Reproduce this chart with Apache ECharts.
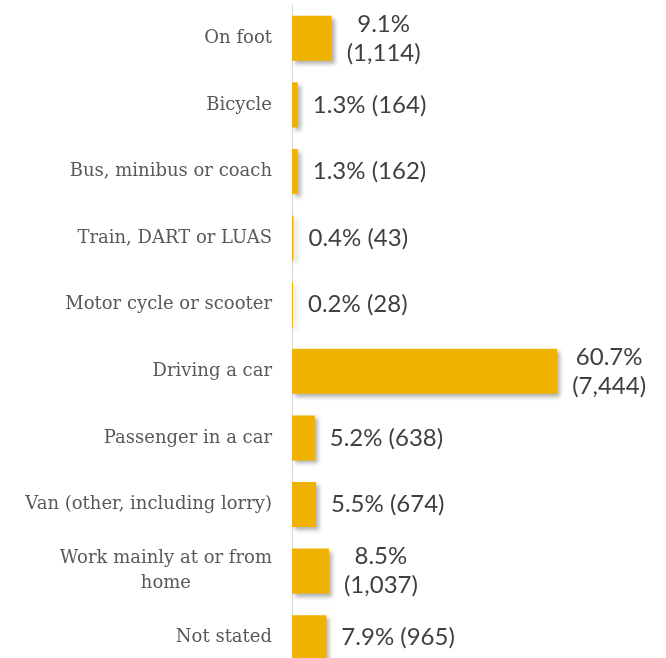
<!DOCTYPE html>
<html>
<head>
<meta charset="utf-8">
<script src="https://cdn.jsdelivr.net/npm/echarts@6/dist/echarts.min.js"></script>
<style>
    html, body { margin: 0; padding: 0; background: #fff; }
    #chart { width: 666px; height: 658px; }
</style>
</head>
<body>
<div id="chart"></div>
<script>
// categories, top to bottom
var categories = [
    "On foot",
    "Bicycle",
    "Bus, minibus or coach",
    "Train, DART or LUAS",
    "Motor cycle or scooter",
    "Driving a car",
    "Passenger in a car",
    "Van (other, including lorry)",
    "Work mainly at or from\nhome",
    "Not stated"
];
var counts = [1114, 164, 162, 43, 28, 7444, 638, 674, 1037, 965];
var percents = ["9.1", "1.3", "1.3", "0.4", "0.2", "60.7", "5.2", "5.5", "8.5", "7.9"];

var chart = echarts.init(document.getElementById("chart"));

function centerLines(text) {
    return text.split("\n").map(function (s) { return "{c|" + s + "}"; }).join("\n");
}

var option = {
    animation: false,
    grid: { left: 292, right: 0, top: 5, height: 666, containLabel: false, outerBoundsMode: "none" },
    xAxis: {
        type: "value",
        min: 0,
        max: 10500,
        show: false
    },
    yAxis: {
        type: "category",
        inverse: true,
        data: categories,
        axisTick: { show: false },
        axisLine: { show: true, lineStyle: { color: "#d9d9d9", width: 1 } },
        axisLabel: {
            margin: 20,
            color: "#595959",
            fontFamily: "DejaVu Serif",
            fontSize: 18,
            formatter: centerLines,
            rich: { c: { align: "center", color: "#595959", fontFamily: "DejaVu Serif", fontSize: 18, lineHeight: 25 } }
        }
    },
    series: [{
        type: "bar",
        data: counts,
        barWidth: 45,
        itemStyle: {
            color: "#efb200",
            shadowColor: "rgba(0,0,0,0.3)",
            shadowBlur: 4,
            shadowOffsetX: 3,
            shadowOffsetY: 3
        },
        label: {
            show: true,
            position: "right",
            distance: 15,
            formatter: function (p) {
                var n = counts[p.dataIndex];
                var pct = percents[p.dataIndex] + "%";
                var num = "(" + n.toLocaleString("en-US") + ")";
                return n >= 1000 ? centerLines(pct + "\n" + num) : centerLines(pct + " " + num);
            },
            rich: { c: { align: "center", color: "#404040", fontFamily: "Lato", fontSize: 24, lineHeight: 29 } }
        }
    }]
};

chart.setOption(option);
</script>
</body>
</html>
